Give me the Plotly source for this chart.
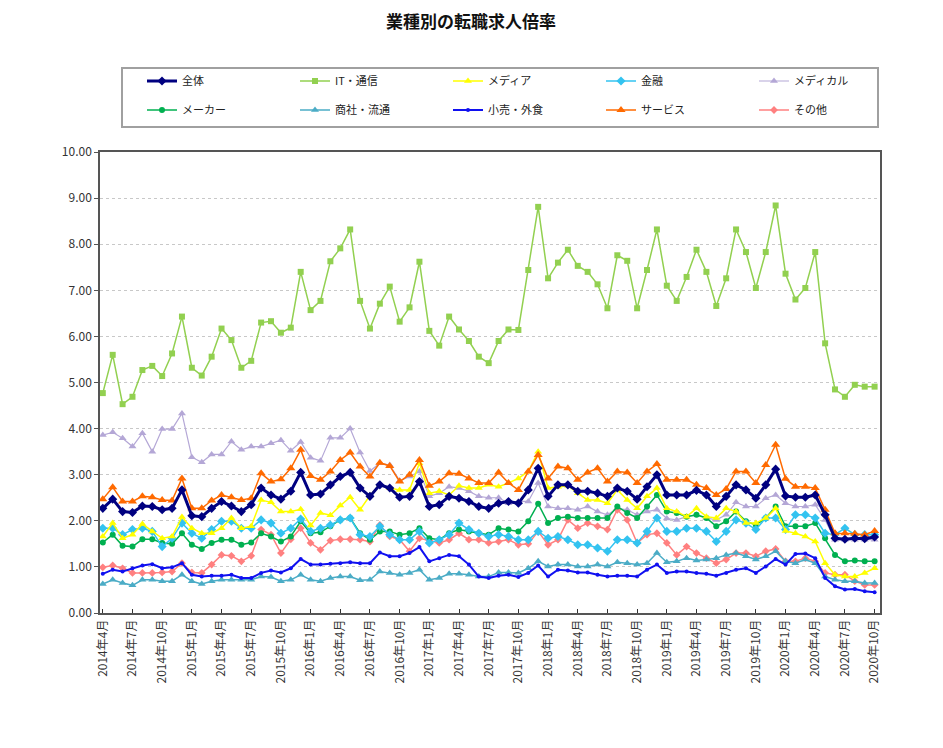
import plotly.graph_objects as go

# ---- categories (Apr 2014 .. Oct 2020) ----
all_months = [f"{y}年{m}月" for y in range(2014, 2021) for m in range(1, 13)]
months = all_months[3:3 + 79]
tick_labels = months[::3]

# ---- series values ----
zentai = [2.27,2.47,2.20,2.18,2.32,2.31,2.24,2.27,2.67,2.11,
          2.09,2.27,2.42,2.32,2.20,2.35,2.71,2.56,2.47,2.64,
          3.05,2.56,2.58,2.78,2.96,3.05,2.71,2.53,2.78,2.71,
          2.51,2.53,2.85,2.31,2.35,2.53,2.49,2.42,2.31,2.27,
          2.38,2.42,2.38,2.67,3.14,2.53,2.78,2.78,2.64,2.64,
          2.60,2.53,2.71,2.64,2.47,2.74,3.00,2.56,2.56,2.56,
          2.66,2.56,2.31,2.53,2.78,2.67,2.49,2.78,3.12,2.54,
          2.51,2.51,2.56,2.13,1.62,1.60,1.62,1.61,1.65]
it_tsushin = [4.77,5.60,4.53,4.69,5.27,5.36,5.14,5.63,6.43,5.32,
              5.15,5.56,6.17,5.92,5.32,5.47,6.30,6.33,6.08,6.19,
              7.40,6.57,6.77,7.63,7.91,8.32,6.77,6.17,6.71,7.08,
              6.32,6.63,7.62,6.12,5.80,6.43,6.15,5.90,5.56,5.42,
              5.90,6.15,6.14,7.44,8.81,7.26,7.60,7.88,7.53,7.40,
              7.13,6.61,7.76,7.64,6.61,7.44,8.32,7.10,6.77,7.29,
              7.88,7.40,6.66,7.26,8.32,7.83,7.05,7.83,8.84,7.36,
              6.80,7.05,7.83,5.85,4.85,4.69,4.95,4.91,4.91]
media = [1.66,1.95,1.62,1.70,1.93,1.77,1.62,1.66,2.08,1.84,
         1.73,1.73,1.84,2.06,1.84,1.88,2.45,2.40,2.20,2.20,
         2.25,1.90,2.17,2.12,2.33,2.51,2.24,2.55,2.78,2.71,
         2.67,2.67,3.25,2.60,2.64,2.56,2.76,2.71,2.71,2.78,
         2.74,2.82,2.92,3.07,3.50,2.71,2.74,2.76,2.60,2.45,
         2.45,2.38,2.67,2.45,2.27,2.53,2.71,2.27,2.20,2.09,
         2.27,2.09,2.06,2.27,2.20,1.95,1.95,2.06,2.27,1.78,
         1.73,1.66,1.55,1.08,0.83,0.79,0.79,0.87,0.97]
kinyu = [1.84,1.84,1.70,1.81,1.84,1.77,1.44,1.62,1.95,1.73,
         1.62,1.81,1.99,1.99,1.84,1.84,2.02,1.95,1.73,1.84,
         2.04,1.77,1.84,1.91,2.02,2.06,1.70,1.66,1.88,1.70,
         1.59,1.59,1.77,1.52,1.59,1.70,1.95,1.81,1.73,1.66,
         1.70,1.66,1.59,1.59,1.77,1.62,1.66,1.59,1.48,1.48,
         1.41,1.34,1.59,1.59,1.52,1.77,2.06,1.77,1.77,1.84,
         1.84,1.77,1.55,1.77,2.02,1.95,1.81,2.06,2.06,1.81,
         2.13,2.13,2.06,1.73,1.70,1.84,1.70,1.70,1.70]
medical = [3.86,3.92,3.79,3.61,3.90,3.50,3.99,3.99,4.33,3.38,
           3.27,3.44,3.44,3.72,3.54,3.61,3.61,3.68,3.75,3.52,
           3.71,3.37,3.30,3.80,3.80,4.00,3.48,3.08,3.25,3.21,
           2.87,2.96,3.07,2.53,2.60,2.74,2.71,2.64,2.53,2.50,
           2.50,2.38,2.42,2.42,2.82,2.31,2.27,2.27,2.24,2.31,
           2.20,2.13,2.27,2.24,2.13,2.20,2.24,2.05,2.02,2.09,
           2.13,2.06,2.02,2.13,2.40,2.31,2.31,2.49,2.56,2.38,
           2.31,2.31,2.35,2.02,1.59,1.59,1.59,1.59,1.59]
maker = [1.53,1.70,1.46,1.44,1.60,1.60,1.52,1.50,1.73,1.48,
         1.39,1.52,1.59,1.59,1.48,1.53,1.73,1.66,1.55,1.66,
         1.99,1.73,1.75,1.88,2.02,2.06,1.73,1.59,1.77,1.77,
         1.70,1.73,1.84,1.62,1.59,1.73,1.81,1.77,1.73,1.70,
         1.84,1.81,1.77,1.99,2.37,1.95,2.06,2.09,2.06,2.06,
         2.06,2.06,2.31,2.17,2.06,2.31,2.56,2.20,2.17,2.09,
         2.13,2.06,1.88,1.99,2.20,1.99,1.91,2.06,2.31,1.88,
         1.88,1.88,1.95,1.62,1.26,1.12,1.14,1.12,1.12]
shosha = [0.63,0.72,0.65,0.60,0.72,0.72,0.69,0.69,0.83,0.69,
          0.63,0.69,0.72,0.72,0.72,0.72,0.79,0.78,0.69,0.72,
          0.83,0.72,0.69,0.76,0.79,0.79,0.71,0.72,0.90,0.87,
          0.83,0.87,0.94,0.72,0.76,0.85,0.85,0.83,0.79,0.79,
          0.88,0.88,0.87,0.97,1.12,1.01,1.05,1.05,1.01,1.01,
          1.05,1.01,1.10,1.08,1.05,1.08,1.30,1.10,1.12,1.19,
          1.14,1.16,1.19,1.26,1.30,1.23,1.16,1.23,1.34,1.12,
          1.08,1.16,1.08,0.79,0.72,0.69,0.69,0.65,0.65]
kouri = [0.85,0.94,0.90,0.97,1.03,1.06,0.97,0.99,1.08,0.83,
         0.79,0.81,0.81,0.83,0.76,0.76,0.87,0.92,0.88,0.97,
         1.17,1.05,1.05,1.07,1.08,1.10,1.08,1.08,1.31,1.23,
         1.23,1.30,1.43,1.12,1.19,1.26,1.23,1.05,0.79,0.76,
         0.81,0.83,0.78,0.87,1.03,0.79,0.94,0.92,0.88,0.88,
         0.83,0.79,0.81,0.81,0.79,0.94,1.05,0.87,0.90,0.90,
         0.87,0.85,0.81,0.87,0.94,0.97,0.87,1.01,1.17,1.05,
         1.28,1.29,1.19,0.76,0.58,0.51,0.52,0.47,0.45]
service = [2.47,2.73,2.42,2.42,2.53,2.51,2.45,2.44,2.92,2.27,
           2.27,2.44,2.56,2.51,2.45,2.49,3.03,2.85,2.90,3.14,
           3.54,2.97,2.89,3.07,3.32,3.48,3.18,2.96,3.26,3.19,
           2.85,3.00,3.32,2.76,2.85,3.03,3.02,2.92,2.82,2.82,
           3.05,2.82,2.67,3.07,3.43,2.92,3.18,3.14,2.89,3.05,
           3.14,2.85,3.07,3.05,2.82,3.07,3.23,2.89,2.89,2.89,
           2.78,2.71,2.56,2.69,3.07,3.07,2.82,3.21,3.65,2.91,
           2.74,2.74,2.71,2.24,1.73,1.73,1.72,1.70,1.78]
sonota = [0.99,1.03,0.97,0.87,0.87,0.87,0.88,0.90,1.08,0.88,
          0.87,1.05,1.26,1.24,1.12,1.24,1.81,1.70,1.30,1.60,
          1.84,1.52,1.37,1.57,1.60,1.60,1.59,1.55,1.91,1.66,
          1.59,1.34,1.62,1.57,1.52,1.59,1.73,1.59,1.59,1.52,
          1.55,1.59,1.48,1.50,1.77,1.48,1.59,2.02,1.84,1.95,
          1.88,1.81,2.24,2.02,1.52,1.70,1.73,1.52,1.26,1.44,
          1.30,1.19,1.08,1.16,1.30,1.30,1.23,1.34,1.39,1.12,
          1.12,1.19,1.12,0.87,0.83,0.83,0.69,0.61,0.61]

# ---- styles: (name, values, color, marker symbol, marker size, line width, legend, rank) ----
series = [
    ("IT・通信",   it_tsushin, "#92D050", "square",      6, 1.5, "legend",  2),
    ("メディカル", medical,    "#B4A7D6", "triangle-up", 7, 1.2, "legend",  5),
    ("その他",     sonota,     "#FF8080", "diamond",     6, 1.5, "legend2", 5),
    ("商社・流通", shosha,     "#4BACC6", "triangle-up", 7, 1.5, "legend2", 2),
    ("小売・外食", kouri,      "#1010F0", "circle",      4, 2.0, "legend2", 3),
    ("メーカー",   maker,      "#00B050", "circle",      6, 1.5, "legend2", 1),
    ("金融",       kinyu,      "#33C3F0", "diamond",     7, 1.5, "legend",  4),
    ("メディア",   media,      "#FFFF00", "triangle-up", 7, 1.5, "legend",  3),
    ("サービス",   service,    "#FF6A00", "triangle-up", 8, 1.5, "legend2", 4),
    ("全体",       zentai,     "#000080", "diamond",     7, 3.0, "legend",  1),
]

fig = go.Figure()
for name, vals, color, sym, msize, lw, leg, rank in series:
    fig.add_trace(go.Scatter(
        x=months, y=vals, name=name, mode="lines+markers",
        line=dict(color=color, width=lw),
        marker=dict(symbol=sym, size=msize, color=color),
        legend=leg, legendrank=rank,
    ))

# The page body adds an 8px offset; work in screen pixels and convert.
OFF = 8
W, H = 943 - OFF, 748 - OFF
PL, PR, PT, PB = 100, 880, 152, 613        # plot area in screen pixels
L, T = PL - OFF, PT - OFF
R = W - (PR - OFF)
B = H - (PB - OFF)
pw, ph = PR - PL, PB - PT

def px_x(x):
    return (x - PL) / pw

def px_y(y):
    return (PB - y) / ph

font_family = "Noto Sans CJK JP"
leg_common = dict(orientation="h", xanchor="left", yanchor="middle",
                  bgcolor="rgba(0,0,0,0)", borderwidth=0,
                  entrywidth=108, entrywidthmode="pixels",
                  font=dict(size=11, color="#222222", family=font_family),
                  itemclick=False)

fig.update_layout(
    width=W, height=H,
    margin=dict(l=L, r=R, t=T, b=B, autoexpand=False),
    paper_bgcolor="white", plot_bgcolor="white",
    font=dict(family=font_family, color="#333333"),
    title=dict(text="<b>業種別の転職求人倍率</b>", x=(471 - OFF) / W, xanchor="center",
               y=1 - (22 - OFF) / H, yanchor="middle", yref="container",
               font=dict(size=17, color="#111111", family=font_family)),
    legend=dict(x=px_x(142), y=px_y(81), **leg_common),
    legend2=dict(x=px_x(142), y=px_y(110), **leg_common),
    showlegend=True,
    shapes=[dict(type="rect", xref="paper", yref="paper",
                 x0=px_x(122), x1=px_x(878), y0=px_y(127), y1=px_y(68),
                 line=dict(color="#A0A0A0", width=2))],
)

fig.update_xaxes(
    type="category", categoryorder="array", categoryarray=months,
    range=[-0.283, 78.546],
    tickmode="array", tickvals=tick_labels, ticktext=tick_labels,
    tickangle=-90, ticks="inside", ticklen=4, tickcolor="#333333",
    tickfont=dict(size=12, color="#333333", family=font_family),
    showline=True, linecolor="#555555", linewidth=1.5, mirror=True,
    showgrid=False, zeroline=False,
)
fig.update_yaxes(
    range=[0, 10], tickmode="linear", tick0=0, dtick=1, tickformat=".2f",
    ticks="outside", ticklen=4, tickcolor="#555555",
    tickfont=dict(size=12, color="#333333", family=font_family),
    showline=True, linecolor="#555555", linewidth=1.5, mirror=True,
    showgrid=True, gridcolor="#C8C8C8", griddash="dot", gridwidth=1,
    zeroline=False,
)

fig.write_html("out.html")
